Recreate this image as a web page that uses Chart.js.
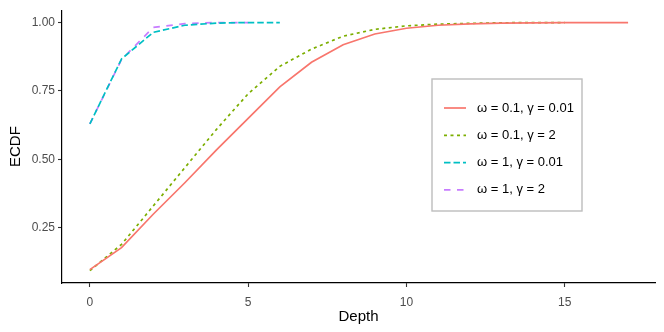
<!DOCTYPE html>
<html>
<head>
<meta charset="utf-8">
<script src="https://cdn.jsdelivr.net/npm/chart.js@4"></script>
<style>
  html, body { margin: 0; padding: 0; background: #fff; }
  #wrap { width: 664px; height: 332px; }
</style>
</head>
<body>
<div id="wrap"><canvas id="ecdfChart"></canvas></div>
<script>
// series values
const seriesLabels = ['ω = 0.1, γ = 0.01', 'ω = 0.1, γ = 2', 'ω = 1, γ = 0.01', 'ω = 1, γ = 2'];
const depthA = [0, 1, 2, 3, 4, 5, 6, 7, 8, 9, 10, 11, 12, 13, 14, 15, 16, 17];
const ecdfA = [0.098, 0.178, 0.30, 0.415, 0.535, 0.65, 0.765, 0.855, 0.919, 0.958, 0.979, 0.99, 0.995, 0.998, 0.999, 1.0, 1.0, 1.0];
const depthB = [0, 1, 2, 3, 4, 5, 6, 7, 8, 9, 10, 11, 12, 13, 14, 15];
const ecdfB = [0.094, 0.19, 0.33, 0.47, 0.61, 0.74, 0.84, 0.903, 0.95, 0.975, 0.988, 0.994, 0.997, 0.999, 1.0, 1.0];
const depthC = [0, 1, 2, 3, 4, 5, 6];
const ecdfC = [0.63, 0.867, 0.964, 0.99, 0.998, 1.0, 1.0];
const depthD = [0, 1, 2, 3, 4, 5];
const ecdfD = [0.63, 0.865, 0.982, 0.996, 1.0, 1.0];
const xTicks = [0, 5, 10, 15];
const yTicks = [0.25, 0.5, 0.75, 1.0];

const colors = ['#F8766D', '#7CAE00', '#00BFC4', '#C77CFF'];
const dashes = [[], [3, 3.5], [6.5, 3], [6.5, 6.5]];
const xs = [depthA, depthB, depthC, depthD];
const ys = [ecdfA, ecdfB, ecdfC, ecdfD];

const font = "'Liberation Sans', Arial, sans-serif";

// ggplot-style boxed legend inside the panel
const boxLegend = {
    id: 'boxLegend',
    afterDatasetsDraw(chart) {
        const ctx = chart.ctx;
        const left = 432, top = 79, w = 150, h = 132;
        ctx.save();
        ctx.fillStyle = '#fff';
        ctx.fillRect(left, top, w, h);
        ctx.strokeStyle = '#BDBDBD';
        ctx.lineWidth = 1.4;
        ctx.strokeRect(left, top, w, h);
        ctx.font = '13px ' + font;
        ctx.textBaseline = 'middle';
        chart.data.datasets.forEach((ds, i) => {
            const y = top + 29 + i * 27.3;
            ctx.strokeStyle = ds.borderColor;
            ctx.lineWidth = ds.borderWidth;
            ctx.setLineDash(ds.borderDash);
            ctx.beginPath();
            ctx.moveTo(left + 12, y);
            ctx.lineTo(left + 34, y);
            ctx.stroke();
            ctx.setLineDash([]);
            ctx.fillStyle = '#000';
            ctx.fillText(ds.label, left + 45, y);
        });
        ctx.restore();
    }
};

const tickSetter = (values) => (scale) => {
    scale.ticks = values.map(v => ({ value: v }));
};

new Chart(document.getElementById('ecdfChart').getContext('2d'), {
    type: 'line',
    data: {
        datasets: seriesLabels.map((label, i) => ({
            label: label,
            data: xs[i].map((x, j) => ({ x: x, y: ys[i][j] })),
            borderColor: colors[i],
            borderWidth: 1.7,
            borderDash: dashes[i],
            pointRadius: 0,
            tension: 0,
            fill: false
        }))
    },
    options: {
        responsive: true,
        maintainAspectRatio: false,
        animation: false,
        layout: { padding: { top: 8, right: 9, left: 0, bottom: 0 } },
        plugins: {
            legend: { display: false },
            tooltip: { enabled: false }
        },
        scales: {
            x: {
                type: 'linear',
                min: -0.88,
                max: 17.85,
                afterBuildTicks: tickSetter(xTicks),
                afterFit: (scale) => { scale.height = 49; },
                border: { display: true, color: '#000', width: 1.2 },
                grid: { display: true, drawOnChartArea: false, drawTicks: true, tickLength: 4, color: '#333', tickWidth: 1.1 },
                ticks: { color: '#4D4D4D', font: { family: font, size: 12 }, padding: 8, maxRotation: 0 },
                title: { display: true, text: 'Depth', color: '#000', font: { family: font, size: 15 }, padding: { top: 0, bottom: 6 } }
            },
            y: {
                type: 'linear',
                min: 0.049,
                max: 1.045,
                afterBuildTicks: tickSetter(yTicks),
                afterFit: (scale) => { scale.width = 62; },
                border: { display: true, color: '#000', width: 1.2 },
                grid: { display: true, drawOnChartArea: false, drawTicks: true, tickLength: 4, color: '#333', tickWidth: 1.1 },
                ticks: {
                    color: '#4D4D4D', font: { family: font, size: 12 }, padding: 3,
                    callback: (v) => v.toFixed(2)
                },
                title: { display: true, text: 'ECDF', color: '#000', font: { family: font, size: 15 }, padding: { top: 7, bottom: 0 } }
            }
        }
    },
    plugins: [boxLegend]
});
</script>
</body>
</html>
